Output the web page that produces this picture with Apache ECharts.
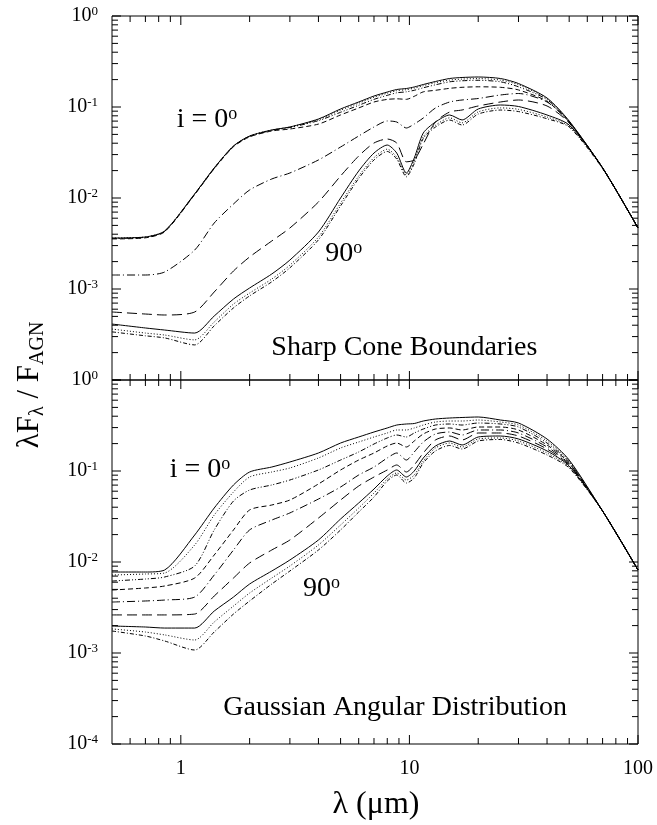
<!DOCTYPE html>
<html><head><meta charset="utf-8">
<script src="https://cdn.jsdelivr.net/npm/echarts@6/dist/echarts.min.js"></script>
<style>html,body{margin:0;padding:0;background:#fff}#c{width:657px;height:825px}</style>
</head><body><div id="c"></div>
<script>
// wavelength grid (micron)
const wavelength = [0.5, 0.7, 0.85, 1.15, 1.4, 1.7, 2.0, 2.5, 3.0, 4.0, 5.0, 6.0, 7.0, 8.0, 8.8, 9.7, 10.5, 11.5, 13, 15, 17, 20, 25, 30, 40, 50, 70, 100];

// Sharp cone boundaries (i = 0 ... 90 deg)
const sharp1 = [0.00363, 0.00373, 0.00434, 0.0111, 0.0214, 0.0373, 0.048, 0.0559, 0.0603, 0.0738, 0.0951, 0.1135, 0.132, 0.146, 0.1557, 0.1597, 0.166, 0.1767, 0.1907, 0.2057, 0.211, 0.2137, 0.2057, 0.1812, 0.1256, 0.0702, 0.0214, 0.00468];
const sharp2 = [0.00363, 0.00373, 0.00434, 0.0111, 0.0214, 0.0373, 0.048, 0.0559, 0.0603, 0.0723, 0.0922, 0.1101, 0.128, 0.1416, 0.151, 0.1549, 0.161, 0.1714, 0.185, 0.1975, 0.2026, 0.2052, 0.1975, 0.1758, 0.1231, 0.0695, 0.0214, 0.00468];
const sharp3 = [0.0036, 0.0037, 0.0043, 0.011, 0.0212, 0.037, 0.0475, 0.0553, 0.0595, 0.0708, 0.0875, 0.1044, 0.1214, 0.1343, 0.1432, 0.1469, 0.1527, 0.1626, 0.1754, 0.1892, 0.1941, 0.1966, 0.1892, 0.1667, 0.1206, 0.0688, 0.0214, 0.00468];
const sharp4 = [0.00355, 0.00365, 0.00425, 0.0109, 0.021, 0.0366, 0.047, 0.0545, 0.0573, 0.0649, 0.0818, 0.0976, 0.1135, 0.1212, 0.123, 0.1214, 0.1311, 0.1467, 0.1526, 0.1604, 0.1646, 0.1667, 0.1646, 0.154, 0.1156, 0.0681, 0.0214, 0.00468];
const sharp5 = [0.001425, 0.001425, 0.001538, 0.00268, 0.00531, 0.00859, 0.01225, 0.01618, 0.01883, 0.02618, 0.03634, 0.048, 0.0603, 0.0702, 0.0684, 0.0588, 0.065, 0.0757, 0.0975, 0.1135, 0.1194, 0.124, 0.1355, 0.1407, 0.1135, 0.0684, 0.0214, 0.00468];
const sharp6 = [0.000559, 0.000531, 0.000518, 0.000559, 0.000927, 0.001578, 0.00225, 0.00337, 0.00468, 0.00904, 0.01745, 0.02894, 0.0402, 0.0445, 0.0402, 0.025, 0.0262, 0.0392, 0.0684, 0.0881, 0.0927, 0.1026, 0.1135, 0.1194, 0.1026, 0.0667, 0.0214, 0.00468];
const sharp7 = [0.000412, 0.000373, 0.000354, 0.000328, 0.000505, 0.000776, 0.001026, 0.001462, 0.00208, 0.00423, 0.01, 0.0198, 0.0312, 0.0382, 0.0312, 0.0188, 0.0275, 0.0518, 0.0684, 0.0817, 0.072, 0.0951, 0.1052, 0.1013, 0.0817, 0.0634, 0.0214, 0.00468];
const sharp8 = [0.000363, 0.000328, 0.000312, 0.000276, 0.000434, 0.000683, 0.000903, 0.001287, 0.00183, 0.00372, 0.0088, 0.0174, 0.0278, 0.0344, 0.0281, 0.0179, 0.0253, 0.0471, 0.0629, 0.076, 0.067, 0.0884, 0.0978, 0.0942, 0.0776, 0.0615, 0.0214, 0.00468];
const sharp9 = [0.000338, 0.000306, 0.00029, 0.000243, 0.000394, 0.00062, 0.00084, 0.0012, 0.00171, 0.00347, 0.0082, 0.0164, 0.0262, 0.0325, 0.0268, 0.0171, 0.0239, 0.0451, 0.0602, 0.0719, 0.0634, 0.0837, 0.0926, 0.0891, 0.0743, 0.0602, 0.021, 0.00468];

// Gaussian angular distribution (i = 0 ... 90 deg)
const gauss1 = [0.00776, 0.00776, 0.00817, 0.0198, 0.0392, 0.0702, 0.0975, 0.1106, 0.1256, 0.1577, 0.203, 0.2364, 0.2683, 0.297, 0.32, 0.3285, 0.3326, 0.3543, 0.3727, 0.3823, 0.3872, 0.3922, 0.3634, 0.3369, 0.2246, 0.132, 0.0363, 0.00817];
const gauss2 = [0.00719, 0.00738, 0.00757, 0.01538, 0.0328, 0.0588, 0.0859, 0.0975, 0.1079, 0.139, 0.179, 0.2083, 0.2364, 0.2616, 0.2822, 0.2822, 0.297, 0.32, 0.3455, 0.3543, 0.3543, 0.3634, 0.3455, 0.32, 0.2137, 0.1288, 0.0363, 0.00817];
const gauss3 = [0.00618, 0.0065, 0.00684, 0.00904, 0.0225, 0.0468, 0.0618, 0.0702, 0.0796, 0.1026, 0.132, 0.1618, 0.198, 0.2307, 0.2488, 0.2364, 0.2616, 0.2893, 0.32, 0.3285, 0.32, 0.3369, 0.3285, 0.3044, 0.203, 0.1256, 0.0363, 0.00817];
const gauss4 = [0.00492, 0.00518, 0.00545, 0.00667, 0.01194, 0.0225, 0.0373, 0.0423, 0.048, 0.072, 0.1026, 0.132, 0.1577, 0.1883, 0.203, 0.1836, 0.2137, 0.2551, 0.2893, 0.297, 0.2822, 0.3044, 0.3044, 0.2822, 0.1931, 0.1225, 0.0363, 0.00817];
const gauss5 = [0.00363, 0.00373, 0.00382, 0.00412, 0.00719, 0.01355, 0.0225, 0.0289, 0.0346, 0.0492, 0.0667, 0.0904, 0.1106, 0.139, 0.1577, 0.132, 0.1618, 0.2083, 0.2551, 0.2683, 0.2488, 0.2822, 0.2822, 0.2616, 0.1836, 0.1194, 0.0363, 0.00817];
const gauss6 = [0.00262, 0.00262, 0.00262, 0.00268, 0.00423, 0.00667, 0.00975, 0.01355, 0.01745, 0.0304, 0.048, 0.0684, 0.0859, 0.1026, 0.1164, 0.0975, 0.1164, 0.1577, 0.2193, 0.2424, 0.2193, 0.2616, 0.2616, 0.2424, 0.1745, 0.1164, 0.0363, 0.00817];
const gauss7 = [0.00198, 0.00193, 0.00188, 0.00188, 0.00289, 0.00412, 0.00573, 0.00796, 0.01052, 0.01745, 0.0297, 0.0445, 0.0634, 0.0881, 0.1026, 0.0859, 0.1, 0.139, 0.1883, 0.2137, 0.1931, 0.2364, 0.2424, 0.2249, 0.166, 0.1135, 0.0363, 0.00817];
const gauss8 = [0.00184, 0.0017, 0.00158, 0.00139, 0.00219, 0.00328, 0.00456, 0.00667, 0.00904, 0.01538, 0.0255, 0.0392, 0.0573, 0.0817, 0.0951, 0.0796, 0.0904, 0.1288, 0.179, 0.203, 0.1836, 0.2249, 0.2307, 0.2137, 0.1577, 0.1106, 0.0363, 0.00817];
const gauss9 = [0.001745, 0.001538, 0.001355, 0.001079, 0.001702, 0.00268, 0.00373, 0.00573, 0.00796, 0.01355, 0.0225, 0.0354, 0.0518, 0.0776, 0.0904, 0.0738, 0.0838, 0.1225, 0.166, 0.1907, 0.1745, 0.2137, 0.222, 0.203, 0.15, 0.1079, 0.0363, 0.00817];

// axis tick values
const xMinorTicks = [0.6, 0.7, 0.8, 0.9, 2, 3, 4, 5, 6, 7, 8, 9, 20, 30, 40, 50, 60, 70, 80, 90];
const xMajorTicks = [1, 10, 100];
const yMajorTicks = [1e-4, 1e-3, 1e-2, 1e-1, 1];
const yMinorTicks = [];
[1e-4, 1e-3, 1e-2, 1e-1].forEach(d => { for (let k = 2; k <= 9; k++) yMinorTicks.push(+(k * d).toPrecision(3)); });

const sharpSeries = [sharp1, sharp2, sharp3, sharp4, sharp5, sharp6, sharp7, sharp8, sharp9];
const gaussSeries = [gauss1, gauss2, gauss3, gauss4, gauss5, gauss6, gauss7, gauss8, gauss9];
const lineTypes = ['solid', [1, 2], [5, 2, 1, 2, 1, 2], [5, 3], [8, 3, 1, 3], [10, 5], 'solid', [1, 2], [4, 2, 1, 2]];

const FONT = 'Liberation Serif';
const X_MIN = 0.5, X_MAX = 100, Y_MIN = 1e-4, Y_MAX = 1;

const chart = echarts.init(document.getElementById('c'), null, { renderer: 'canvas' });

function yFmt(hideMin) {
  return function (v) {
    const e = Math.round(Math.log10(v));
    if (hideMin && e === -4) return '';
    return '{b|10}{s|' + e + '}';
  };
}
function xFmt(v) {
  const l = Math.log10(v);
  if (Math.abs(l - Math.round(l)) > 1e-6) return '';
  return String(Math.round(v));
}
const yRich = {
  b: { fontFamily: FONT, fontSize: 20, color: '#000', lineHeight: 22 },
  s: { fontFamily: FONT, fontSize: 13, color: '#000', verticalAlign: 'top', lineHeight: 13, padding: [0, 0, 4, 0] }
};

function makeXAxis(gi, showLabel) {
  return {
    gridIndex: gi, type: 'log', logBase: 10, min: X_MIN, max: X_MAX,
    axisLine: { show: false }, axisTick: { show: false }, splitLine: { show: false }, minorTick: { show: false },
    axisLabel: { show: showLabel, formatter: xFmt, margin: 15, fontFamily: FONT, fontSize: 20, color: '#000' }
  };
}
function makeYAxis(gi, hideMin) {
  return {
    gridIndex: gi, type: 'log', logBase: 10, min: Y_MIN, max: Y_MAX,
    axisLine: { show: false }, axisTick: { show: false }, splitLine: { show: false },
    axisLabel: { formatter: yFmt(hideMin), margin: 14, rich: yRich }
  };
}

function tickSeries(gi) {
  const xData = xMinorTicks.map(v => [v, 0.01, 0]).concat(xMajorTicks.map(v => [v, 0.01, 1]));
  const yData = yMinorTicks.map(v => [1, v, 0]).concat(yMajorTicks.map(v => [1, v, 1]));
  const ln = (x1, y1, x2, y2) => ({ type: 'line', shape: { x1, y1, x2, y2 }, style: { stroke: '#000', lineWidth: 1 } });
  return [
    {
      type: 'custom', xAxisIndex: gi, yAxisIndex: gi, silent: true, z: 10, data: xData,
      encode: { x: 0, y: 1 },
      renderItem: function (params, api) {
        const v = api.value(0), len = api.value(2) ? 9 : 6;
        const b = api.coord([v, Y_MIN]), t = api.coord([v, Y_MAX]);
        return { type: 'group', children: [ln(b[0], b[1], b[0], b[1] - len), ln(t[0], t[1], t[0], t[1] + len)] };
      }
    },
    {
      type: 'custom', xAxisIndex: gi, yAxisIndex: gi, silent: true, z: 10, data: yData,
      encode: { x: 0, y: 1 },
      renderItem: function (params, api) {
        const v = api.value(1), len = api.value(2) ? 9 : 6;
        const l = api.coord([X_MIN, v]), r = api.coord([X_MAX, v]);
        return { type: 'group', children: [ln(l[0], l[1], l[0] + len, l[1]), ln(r[0], r[1], r[0] - len, r[1])] };
      }
    }
  ];
}

const series = [];
sharpSeries.forEach((arr, k) => series.push({
  type: 'line', xAxisIndex: 0, yAxisIndex: 0, showSymbol: false, symbol: 'none', smooth: 0.25, silent: true,
  lineStyle: { color: '#000', width: 1, type: lineTypes[k] },
  data: wavelength.map((w, i) => [w, arr[i]])
}));
gaussSeries.forEach((arr, k) => series.push({
  type: 'line', xAxisIndex: 1, yAxisIndex: 1, showSymbol: false, symbol: 'none', smooth: 0.25, silent: true,
  lineStyle: { color: '#000', width: 1, type: lineTypes[k] },
  data: wavelength.map((w, i) => [w, arr[i]])
}));
tickSeries(0).concat(tickSeries(1)).forEach(s => series.push(s));

chart.setOption({
  animation: false,
  backgroundColor: '#fff',
  grid: [
    { left: 112, top: 16, width: 526, height: 364, show: true, borderColor: '#000', borderWidth: 1, backgroundColor: 'transparent' },
    { left: 112, top: 380, width: 526, height: 364, show: true, borderColor: '#000', borderWidth: 1, backgroundColor: 'transparent' }
  ],
  xAxis: [makeXAxis(0, false), makeXAxis(1, true)],
  yAxis: [makeYAxis(0, true), makeYAxis(1, false)],
  series: series
});

// annotations anchored in data coordinates
const annotations = [
  { panel: 0, text: '{t|i = 0}{s|o}', at: [0.96, 0.072], align: 'left' },
  { panel: 0, text: '{t|90}{s|o}', at: [4.28, 0.00243], align: 'left' },
  { panel: 0, text: '{t|Sharp Cone Boundaries}', at: [9.5, 0.000225], align: 'center' },
  { panel: 1, text: '{t|i = 0}{s|o}', at: [0.895, 0.1026], align: 'left' },
  { panel: 1, text: '{t|90}{s|o}', at: [3.42, 0.00505], align: 'left' },
  { panel: 1, text: '{t|Gaussian Angular Distribution}', at: [8.66, 0.000249], align: 'center' }
];
const annRich = {
  t: { fontFamily: FONT, fontSize: 28, color: '#000', lineHeight: 30 },
  s: { fontFamily: FONT, fontSize: 18, color: '#000', verticalAlign: 'top', lineHeight: 18, padding: [0, 0, 4, 0] }
};
const graphic = annotations.map(a => {
  const p = chart.convertToPixel({ xAxisIndex: a.panel, yAxisIndex: a.panel }, a.at);
  return { type: 'text', x: p[0], y: p[1], z: 20, silent: true,
    style: { text: a.text, rich: annRich, align: a.align, verticalAlign: 'middle' } };
});
graphic.push({
  type: 'text', x: 376, y: 805, z: 20, silent: true,
  style: { text: 'λ (μm)', fontFamily: FONT, fontSize: 32, fill: '#000', align: 'center', verticalAlign: 'middle' }
});
graphic.push({
  type: 'text', x: 30, y: 385, rotation: Math.PI / 2, z: 20, silent: true,
  style: {
    text: '{m|λF}{u|λ}{m| / F}{u|AGN}', align: 'center', verticalAlign: 'middle',
    rich: {
      m: { fontFamily: FONT, fontSize: 31, color: '#000', lineHeight: 36 },
      u: { fontFamily: FONT, fontSize: 20, color: '#000', lineHeight: 36, verticalAlign: 'bottom', padding: [0, 0, 0, 0] }
    }
  }
});
chart.setOption({ graphic: graphic });
</script>
</body></html>
